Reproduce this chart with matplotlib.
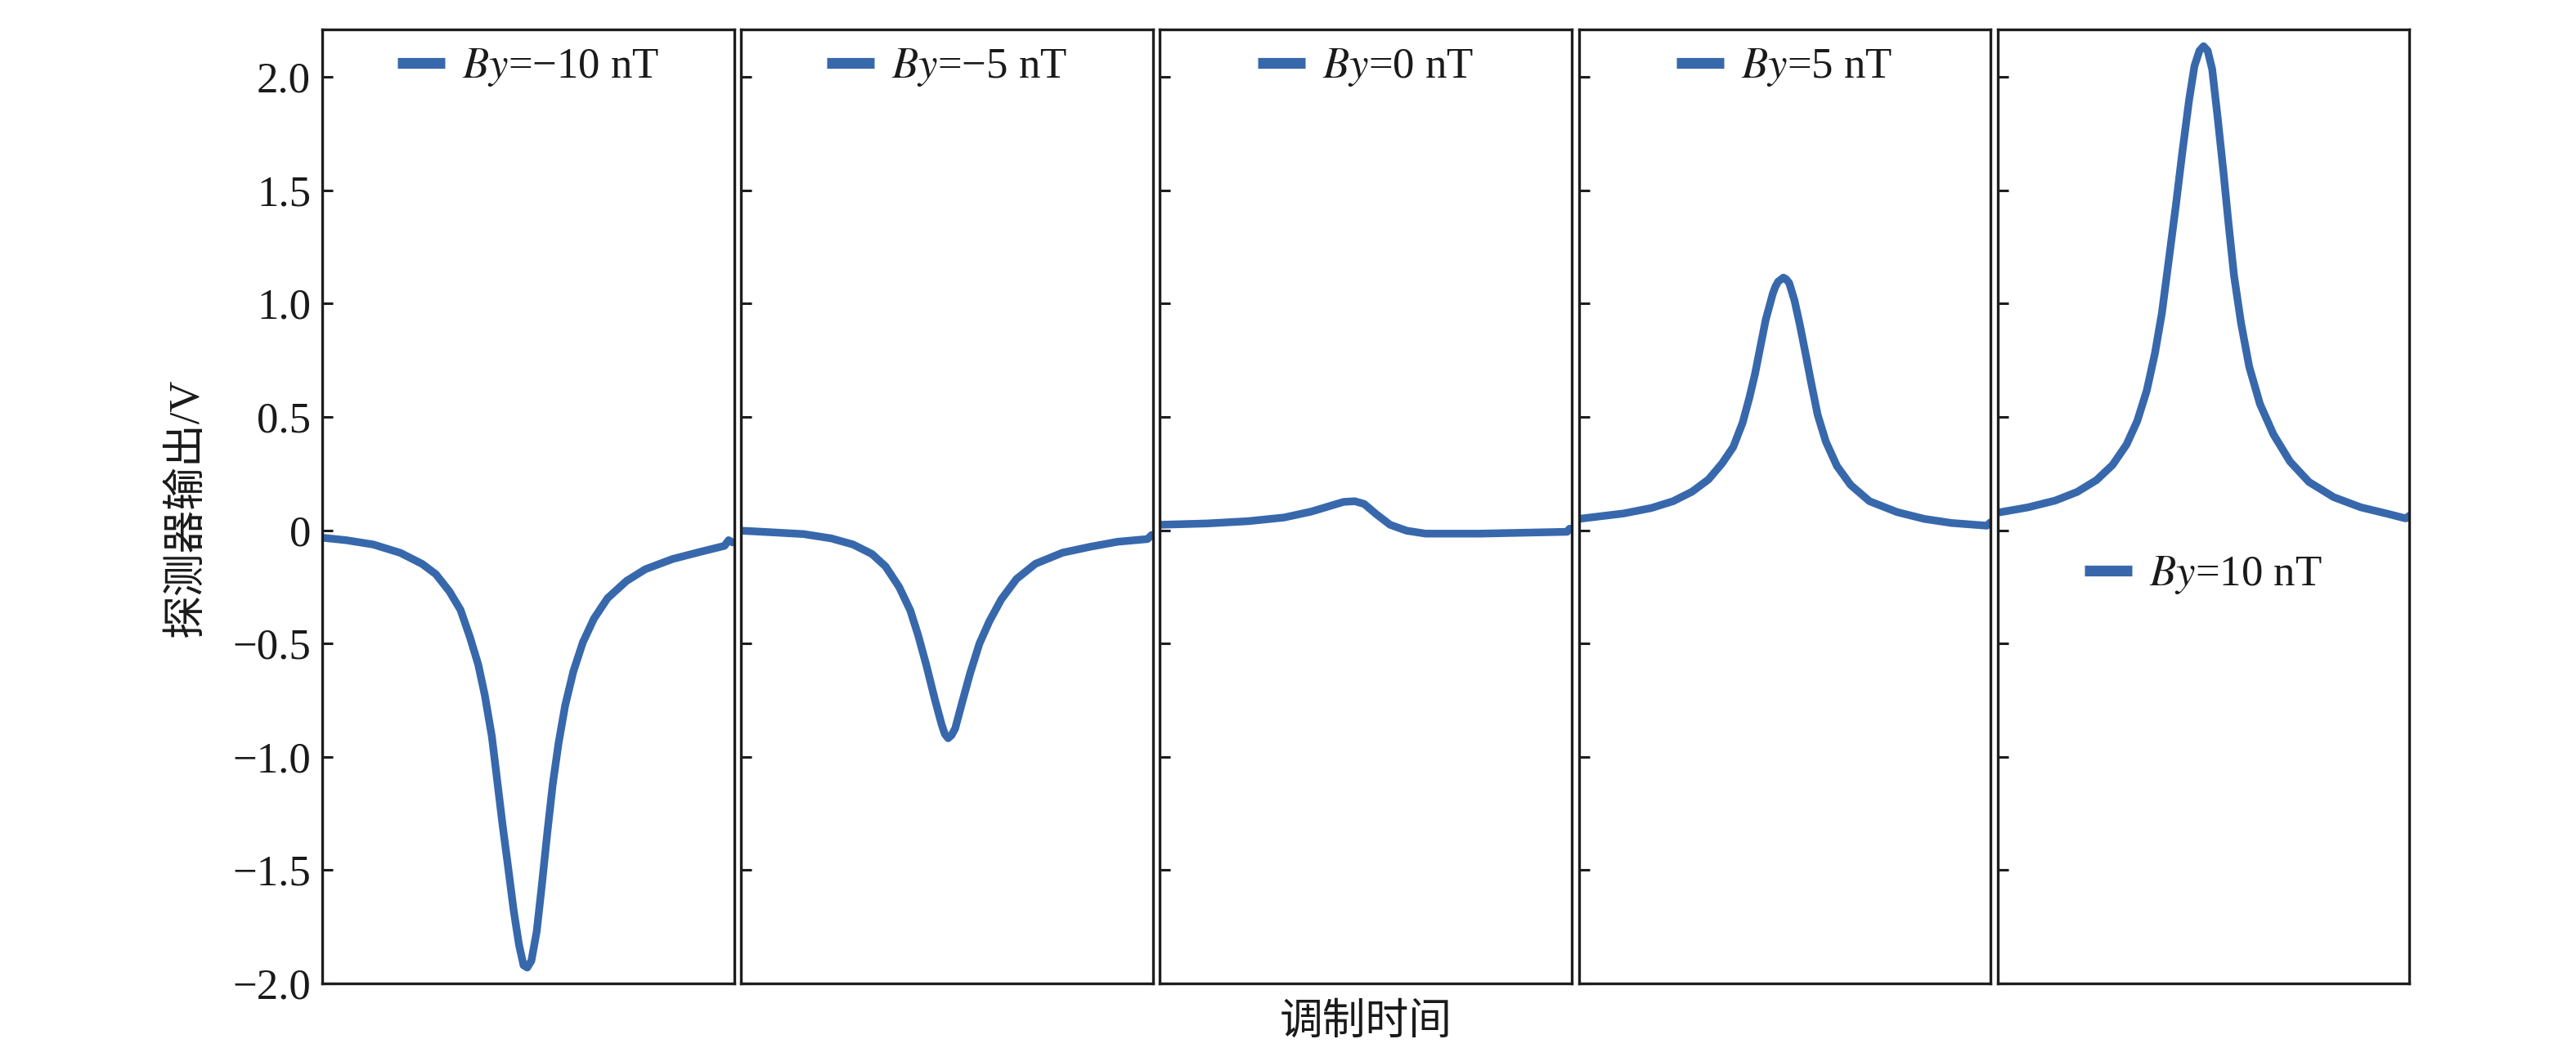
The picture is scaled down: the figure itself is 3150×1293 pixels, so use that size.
import matplotlib
matplotlib.use("Agg")
import matplotlib.pyplot as plt

plt.rcParams['font.family'] = ['Liberation Serif', 'Noto Sans CJK SC']
plt.rcParams['mathtext.fontset'] = 'stix'
plt.rcParams['axes.unicode_minus'] = True

# ---------------- data ----------------
panel_labels = ["$By$=\u221210 nT", "$By$=\u22125 nT", "$By$=0 nT", "$By$=5 nT", "$By$=10 nT"]

x_m10 = [0.0, 0.058, 0.124, 0.19, 0.243, 0.276, 0.309, 0.336, 0.359, 0.379, 0.395, 0.412,
         0.425, 0.438, 0.451, 0.465, 0.478, 0.489, 0.498, 0.508, 0.521, 0.534, 0.547, 0.560,
         0.574, 0.59, 0.61, 0.633, 0.66, 0.693, 0.739, 0.785, 0.851, 0.917, 0.977, 0.987, 0.997]
y_m10 = [-0.033, -0.044, -0.063, -0.10, -0.149, -0.194, -0.27, -0.352, -0.473, -0.593, -0.729, -0.91,
         -1.105, -1.30, -1.48, -1.678, -1.83, -1.92, -1.93, -1.90, -1.77, -1.557, -1.33, -1.12,
         -0.94, -0.774, -0.623, -0.495, -0.39, -0.30, -0.224, -0.172, -0.127, -0.096, -0.069, -0.044, -0.054]

x_m5 = [0.0, 0.053, 0.152, 0.219, 0.272, 0.318, 0.351, 0.384, 0.411, 0.43, 0.45, 0.47, 0.487,
        0.495, 0.503, 0.511, 0.52, 0.536, 0.556, 0.579, 0.603, 0.632, 0.669, 0.715, 0.781, 0.848,
        0.914, 0.987, 0.997]
y_m5 = [-0.002, -0.007, -0.017, -0.036, -0.063, -0.105, -0.16, -0.251, -0.354, -0.463, -0.596, -0.742, -0.857,
        -0.900, -0.918, -0.905, -0.875, -0.766, -0.633, -0.50, -0.402, -0.305, -0.215, -0.148, -0.099, -0.073,
        -0.051, -0.039, -0.021]

x_0 = [0.0, 0.116, 0.215, 0.301, 0.367, 0.413, 0.446, 0.473, 0.496, 0.526, 0.559, 0.599,
       0.645, 0.777, 0.909, 0.989, 0.995]
y_0 = [0.024, 0.030, 0.040, 0.056, 0.082, 0.107, 0.125, 0.128, 0.116, 0.070, 0.024, -0.002,
       -0.015, -0.015, -0.010, -0.007, 0.007]

x_p5 = [0.0, 0.109, 0.176, 0.229, 0.275, 0.315, 0.348, 0.375, 0.398, 0.414, 0.428, 0.441, 0.454,
        0.471, 0.477, 0.484, 0.497, 0.504, 0.511, 0.524, 0.537, 0.55, 0.564, 0.58, 0.60, 0.627,
        0.66, 0.706, 0.773, 0.839, 0.905, 0.991, 1.0]
y_p5 = [0.050, 0.074, 0.098, 0.128, 0.170, 0.224, 0.295, 0.367, 0.475, 0.583, 0.69, 0.81, 0.929,
        1.043, 1.073, 1.097, 1.115, 1.107, 1.091, 1.013, 0.905, 0.786, 0.654, 0.51, 0.391, 0.283,
        0.20, 0.128, 0.080, 0.050, 0.032, 0.020, 0.035]

x_p10 = [0.005, 0.074, 0.14, 0.193, 0.24, 0.279, 0.313, 0.339, 0.362, 0.382, 0.399, 0.415, 0.432,
         0.448, 0.465, 0.478, 0.49, 0.5, 0.51, 0.521, 0.534, 0.548, 0.561, 0.574, 0.591, 0.611,
         0.637, 0.67, 0.71, 0.756, 0.816, 0.882, 0.948, 0.991, 1.0]
y_p10 = [0.079, 0.101, 0.131, 0.169, 0.221, 0.288, 0.378, 0.482, 0.616, 0.781, 0.96, 1.184, 1.422,
         1.661, 1.90, 2.049, 2.116, 2.136, 2.116, 2.034, 1.825, 1.587, 1.348, 1.124, 0.915, 0.721,
         0.557, 0.422, 0.303, 0.213, 0.146, 0.101, 0.072, 0.052, 0.064]

ytick_values = [-2.0, -1.5, -1.0, -0.5, 0.0, 0.5, 1.0, 1.5, 2.0]
ytick_labels = ["\u22122.0", "\u22121.5", "\u22121.0", "\u22120.5", "0", "0.5", "1.0", "1.5", "2.0"]

xs = [x_m10, x_m5, x_0, x_p5, x_p10]
ys = [y_m10, y_m5, y_0, y_p5, y_p10]

# ---------------- layout ----------------
W, H = 3150, 1293
fig = plt.figure(figsize=(W / 100, H / 100), dpi=100)

line_color = '#3868ac'
frame_color = '#1e1e1e'
fs = 38

left0 = 394 / W
step = 512.2 / W
width = 503.5 / W
bottom = 90 / H
height = 1167 / H

legend_y = [0.96, 0.96, 0.96, 0.96, 0.428]

for i in range(5):
    ax = fig.add_axes([left0 + i * step, bottom, width, height])
    ax.plot(xs[i], ys[i], color=line_color, lw=6.8, solid_joinstyle='round',
            solid_capstyle='round', label=panel_labels[i])
    ax.set_xlim(0, 1)
    ax.set_ylim(-2.0, 2.21)
    ax.set_xticks([])
    ax.set_yticks(ytick_values)
    if i == 0:
        ax.set_yticklabels(ytick_labels)
    else:
        ax.set_yticklabels([])
    ax.tick_params(axis='y', direction='in', length=9, width=2.2, color=frame_color,
                   labelsize=fs, pad=10, labelcolor='#1a1a1a')
    for sp in ax.spines.values():
        sp.set_linewidth(2.4)
        sp.set_color(frame_color)
    leg = ax.legend(loc='center', bbox_to_anchor=(0.5, legend_y[i]), frameon=False,
                    fontsize=fs, handlelength=1.1, handletextpad=0.4, borderpad=0.2)
    for t in leg.get_texts():
        t.set_color('#1a1a1a')
    for l in leg.get_lines():
        l.set_linewidth(9.5)
        l.set_solid_capstyle('butt')

fig.text(1670 / W, 1 - 1252 / H, "调制时间", ha='center', va='center', fontsize=fs,
         color='#1a1a1a')
fig.text(228 / W, 1 - 621 / H, "探测器输出/V", ha='center', va='center', rotation=90,
         fontsize=fs, color='#1a1a1a')

fig.savefig("out.png", dpi=100)
